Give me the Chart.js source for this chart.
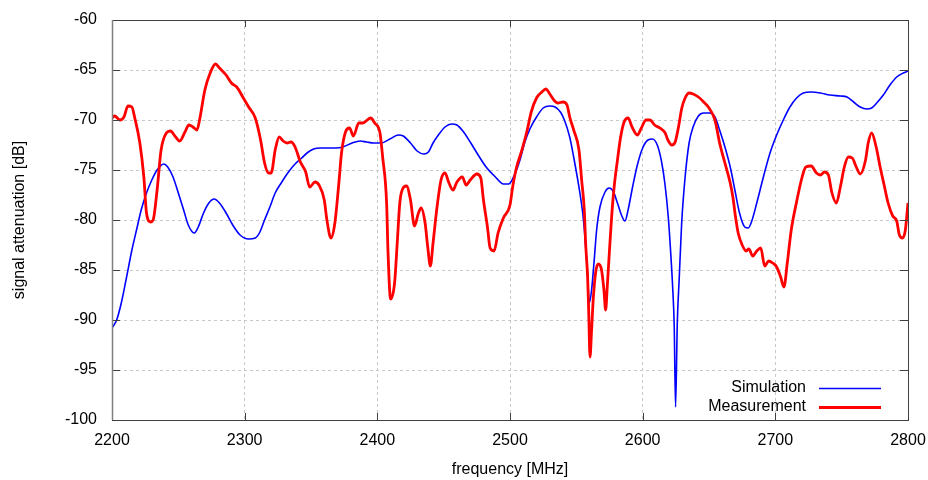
<!DOCTYPE html>
<html>
<head>
<meta charset="utf-8">
<script src="https://cdn.jsdelivr.net/npm/chart.js@4"></script>
<style>
  html, body { margin: 0; padding: 0; background: #fff; }
  canvas { display: block; }
</style>
</head>
<body>
<canvas id="chart" width="928" height="480"></canvas>
<script>
// Dados (frequência em MHz, atenuação em dB)
const simFreq = [2200, 2203.5, 2207, 2211, 2215, 2219, 2222, 2226, 2230, 2234, 2239, 2242, 2246, 2250, 2254, 2257.5, 2262, 2265, 2269, 2273, 2277, 2281, 2286, 2291, 2296.5, 2303, 2308, 2311.5, 2315, 2319, 2323, 2328, 2333, 2338, 2343, 2347, 2352, 2357, 2362, 2369, 2374, 2381, 2387, 2392, 2397, 2403, 2409.5, 2416, 2419.5, 2425, 2430, 2435, 2438.5, 2442, 2446, 2451, 2456, 2460, 2465, 2470, 2476, 2482, 2489, 2495, 2499, 2504, 2507.5, 2511, 2515, 2520, 2525, 2530, 2534, 2538, 2541, 2545, 2548, 2550.7, 2552.7, 2554.8, 2556.5, 2558.3, 2559.8, 2561.5, 2563.3, 2565.3, 2567.8, 2571.6, 2574.8, 2578, 2581, 2584, 2586.7, 2589, 2592.4, 2596, 2600, 2604, 2607.4, 2611, 2614, 2616.7, 2619.3, 2621, 2622.6, 2623.8, 2624.8, 2626.1, 2627.6, 2629.4, 2632, 2635, 2638, 2642, 2646, 2650.5, 2654.5, 2658, 2662, 2666, 2669.5, 2673, 2677, 2679.6, 2682, 2686, 2691, 2696, 2701, 2706, 2711, 2716, 2721, 2727, 2734, 2741, 2749, 2754, 2759, 2764, 2769, 2772.6, 2776.4, 2781.4, 2786.4, 2791.5, 2796.5, 2800];
const simAtt = [-90.8, -90.0, -88.3, -85.7, -83.0, -80.7, -79.0, -77.3, -76.0, -75.0, -74.4, -74.7, -75.7, -77.3, -79.0, -80.5, -81.3, -80.7, -79.3, -78.3, -77.9, -78.3, -79.3, -80.5, -81.5, -81.9, -81.8, -81.2, -80.0, -78.7, -77.3, -76.2, -75.2, -74.4, -73.8, -73.3, -72.9, -72.8, -72.8, -72.8, -72.7, -72.3, -72.1, -72.2, -72.3, -72.3, -71.9, -71.5, -71.6, -72.3, -73.1, -73.4, -73.2, -72.3, -71.5, -70.7, -70.4, -70.5, -71.2, -72.2, -73.5, -74.7, -75.7, -76.4, -76.4, -75.3, -74.0, -72.3, -70.9, -69.7, -68.8, -68.6, -68.7, -69.2, -70.0, -71.7, -73.7, -75.7, -77.3, -79.3, -81.7, -85.0, -88.3, -87.0, -84.3, -81.0, -78.7, -77.2, -76.8, -77.2, -78.3, -79.5, -80.1, -79.0, -76.7, -74.5, -72.8, -72.0, -71.9, -72.5, -74.0, -76.3, -79.7, -83.0, -86.7, -90.7, -98.7, -90.3, -85.7, -80.3, -75.7, -72.3, -70.7, -69.6, -69.3, -69.3, -69.7, -71.0, -72.7, -74.7, -77.0, -79.3, -80.7, -80.8, -80.2, -78.3, -75.7, -73.3, -71.5, -70.0, -68.7, -67.8, -67.3, -67.2, -67.3, -67.5, -67.6, -67.7, -68.2, -68.7, -68.9, -68.8, -68.3, -67.5, -66.5, -65.7, -65.3, -65.1];

const measFreq = [2200, 2202, 2206, 2209, 2212, 2215, 2217, 2221, 2224, 2226, 2229, 2231, 2234, 2237, 2241, 2244, 2248, 2251, 2255, 2258, 2261, 2264, 2266, 2270, 2274, 2278, 2281, 2286, 2290, 2294, 2299, 2303, 2308, 2312, 2315, 2318, 2320, 2323, 2326, 2329, 2332, 2335, 2338, 2342, 2346, 2349, 2353, 2356, 2360, 2362, 2365, 2368, 2371, 2373, 2376, 2379, 2382, 2386, 2389, 2395, 2398, 2402, 2404, 2407, 2408, 2410, 2413, 2415, 2417, 2420, 2422, 2425, 2428, 2431, 2433, 2436, 2438, 2440, 2442, 2445, 2448, 2451, 2454, 2457, 2460, 2464, 2467, 2470, 2475, 2478, 2480, 2483, 2485, 2488, 2491, 2495, 2500, 2502, 2505, 2509, 2513, 2516, 2520, 2524, 2527, 2530, 2533, 2536, 2540, 2543, 2545, 2548, 2552, 2554, 2556, 2557, 2558.5, 2559.3, 2560.3, 2561.5, 2562.7, 2564.5, 2566.5, 2569, 2570.8, 2572.1, 2573.3, 2575, 2576.6, 2578.5, 2581, 2583.4, 2586, 2589, 2592, 2596, 2599, 2602.5, 2605.5, 2609, 2613, 2617, 2619, 2622, 2624.5, 2627, 2629.5, 2632, 2635, 2638, 2642, 2646, 2650, 2654.5, 2658, 2662, 2666, 2668, 2670, 2672, 2675, 2678, 2680, 2683, 2686, 2689, 2692, 2695, 2698, 2701, 2704, 2706.5, 2709, 2712, 2716, 2720, 2723, 2727, 2731, 2734, 2737, 2740, 2742.5, 2746, 2749, 2752, 2755, 2758, 2761, 2764, 2768, 2770, 2772.6, 2776, 2779, 2782, 2785, 2788.5, 2791.5, 2793.5, 2796, 2798, 2800];
const measAtt = [-69.8, -69.6, -70.0, -69.7, -68.6, -68.7, -69.7, -72.3, -75.7, -79.3, -80.2, -80.0, -77.0, -73.0, -71.3, -71.1, -71.7, -72.1, -71.2, -70.5, -70.7, -71.0, -70.0, -67.0, -65.3, -64.4, -64.8, -65.5, -66.3, -66.7, -67.8, -68.7, -69.8, -72.0, -74.3, -75.3, -75.3, -73.0, -71.7, -72.1, -72.3, -72.2, -72.7, -74.2, -75.2, -76.7, -76.2, -76.5, -78.0, -80.0, -81.8, -80.3, -76.3, -73.3, -71.2, -70.8, -71.6, -70.3, -70.3, -69.8, -70.3, -71.3, -73.7, -78.3, -83.0, -87.9, -86.3, -82.3, -78.2, -76.7, -76.6, -78.0, -80.6, -79.3, -78.8, -80.3, -82.7, -84.6, -82.3, -78.7, -76.0, -75.3, -76.3, -77.0, -76.2, -75.7, -76.5, -76.0, -75.4, -75.8, -78.0, -80.7, -82.8, -83.1, -81.3, -79.8, -78.5, -76.7, -74.7, -73.0, -71.0, -69.2, -67.8, -67.2, -66.9, -67.4, -68.0, -68.3, -68.2, -68.5, -69.7, -71.0, -73.0, -76.0, -79.0, -82.3, -85.7, -89.0, -93.7, -91.0, -88.0, -85.3, -84.4, -85.0, -87.0, -89.0, -86.7, -83.0, -79.7, -76.7, -74.0, -71.7, -70.2, -69.8, -70.7, -71.5, -70.8, -70.0, -70.0, -70.5, -70.8, -71.3, -72.0, -72.5, -72.2, -70.7, -68.8, -67.8, -67.3, -67.4, -67.7, -68.2, -68.8, -70.0, -72.3, -74.3, -76.3, -77.7, -79.7, -81.3, -82.5, -83.1, -82.9, -83.6, -83.1, -82.8, -84.6, -84.1, -84.3, -84.7, -85.7, -86.7, -84.3, -81.0, -78.2, -75.8, -74.7, -74.6, -75.3, -75.5, -75.2, -75.5, -77.2, -78.3, -76.7, -74.7, -73.7, -73.8, -74.7, -75.4, -74.0, -72.3, -71.3, -72.7, -74.7, -76.5, -78.3, -79.6, -80.1, -81.5, -81.8, -81.0, -78.3];

const xTicks = [2200, 2300, 2400, 2500, 2600, 2700, 2800];
const yTicks = [-100, -95, -90, -85, -80, -75, -70, -65, -60];

const FONT = "'Liberation Sans', Arial, sans-serif";

function toPoints(xs, ys) {
  return xs.map((x, i) => ({ x: x, y: ys[i] }));
}

// moldura, marcas internas e legenda no estilo gnuplot
const framePlugin = {
  id: 'frame',
  afterDraw(chart) {
    const ctx = chart.ctx;
    const a = chart.chartArea;
    const sx = chart.scales.x, sy = chart.scales.y;
    ctx.save();
    ctx.strokeStyle = '#404040';
    ctx.lineWidth = 1;
    ctx.beginPath();
    xTicks.forEach(v => {
      const px = Math.round(sx.getPixelForValue(v)) + 0.5;
      ctx.moveTo(px, a.bottom); ctx.lineTo(px, a.bottom - 7);
      ctx.moveTo(px, a.top); ctx.lineTo(px, a.top + 7);
    });
    yTicks.forEach(v => {
      const py = Math.round(sy.getPixelForValue(v)) + 0.5;
      ctx.moveTo(a.left, py); ctx.lineTo(a.left + 8, py);
      ctx.moveTo(a.right, py); ctx.lineTo(a.right - 8, py);
    });
    ctx.stroke();
    ctx.strokeRect(Math.round(a.left) + 0.5, Math.round(a.top) + 0.5, Math.round(a.right - a.left), Math.round(a.bottom - a.top));
    ctx.strokeStyle = '#808080';
    ctx.lineWidth = 1.5;
    ctx.beginPath();
    ctx.moveTo(Math.round(a.left) + 0.5, a.top);
    ctx.lineTo(Math.round(a.left) + 0.5, a.bottom);
    ctx.stroke();

    // legenda
    ctx.font = '16px ' + FONT;
    ctx.fillStyle = '#000';
    ctx.textAlign = 'right';
    ctx.textBaseline = 'middle';
    const rows = [[0, 388], [1, 407]];
    rows.forEach(([i, y]) => {
      const ds = chart.data.datasets[i];
      ctx.fillText(ds.label, 806, y);
      ctx.strokeStyle = ds.borderColor;
      ctx.lineWidth = ds.borderWidth;
      ctx.beginPath();
      ctx.moveTo(819, y + 0.5);
      ctx.lineTo(881, y + 0.5);
      ctx.stroke();
    });
    ctx.restore();
  }
};

new Chart(document.getElementById('chart').getContext('2d'), {
  type: 'scatter',
  data: {
    datasets: [
      {
        label: 'Simulation',
        data: toPoints(simFreq, simAtt),
        showLine: true,
        borderColor: '#0000ff',
        borderWidth: 1.6,
        pointRadius: 0,
        cubicInterpolationMode: 'monotone',
        order: 2
      },
      {
        label: 'Measurement',
        data: toPoints(measFreq, measAtt),
        showLine: true,
        borderColor: '#ff0000',
        borderWidth: 2.8,
        pointRadius: 0,
        cubicInterpolationMode: 'monotone',
        order: 1
      }
    ]
  },
  options: {
    responsive: false,
    animation: false,
    layout: { padding: { top: 20, right: 20, left: 0, bottom: 0 } },
    plugins: { legend: { display: false }, tooltip: { enabled: false } },
    scales: {
      x: {
        type: 'linear',
        min: 2200, max: 2800,
        afterBuildTicks: s => { s.ticks = xTicks.map(v => ({ value: v })); },
        afterFit: s => { s.height = 60; s.paddingLeft = 0; s.paddingRight = 0; },
        ticks: { color: '#000', font: { size: 16, family: FONT }, padding: 11, maxRotation: 0, callback: v => String(v) },
        grid: { color: '#c8c8c8', drawTicks: false },
        border: { display: false, dash: [3, 3] },
        title: { display: true, text: 'frequency [MHz]', color: '#000', font: { size: 16, family: FONT }, padding: { top: 0, bottom: 1 } }
      },
      y: {
        min: -100, max: -60,
        afterBuildTicks: s => { s.ticks = yTicks.map(v => ({ value: v })); },
        afterFit: s => { s.width = 112; s.paddingTop = 0; s.paddingBottom = 0; },
        ticks: { color: '#000', font: { size: 16, family: FONT }, padding: 15, callback: v => String(v) },
        grid: { color: '#c8c8c8', drawTicks: false },
        border: { display: false, dash: [3, 3] },
        title: { display: true, text: 'signal attenuation [dB]', color: '#000', font: { size: 16, family: FONT }, padding: { top: 10, bottom: 0 } }
      }
    }
  },
  plugins: [framePlugin]
});
</script>
</body>
</html>
